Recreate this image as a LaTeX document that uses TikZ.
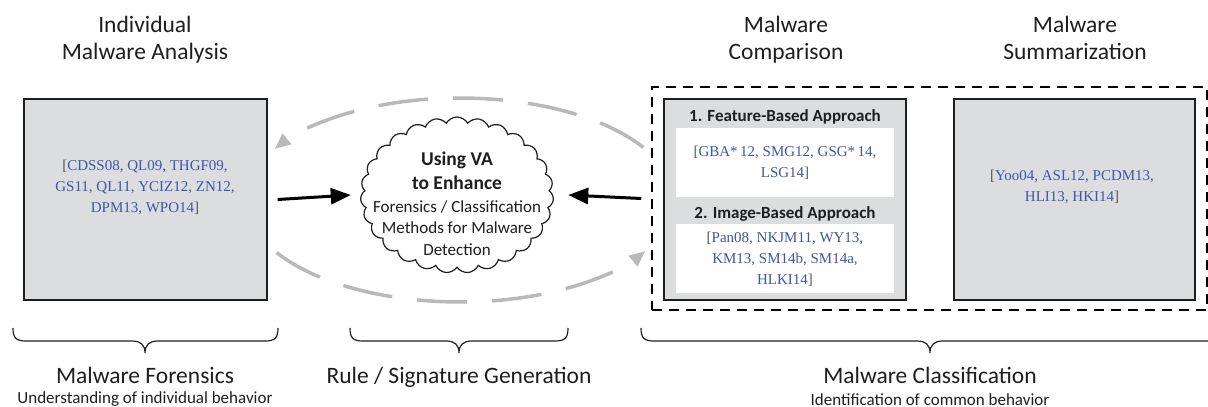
\documentclass[tikz,border=0pt]{standalone}
\usepackage{fontspec}
\setmainfont{Carlito}
\newfontfamily\citefont{Liberation Serif}
\usetikzlibrary{shapes.symbols,arrows.meta}
\definecolor{boxgray}{RGB}{220,221,223}
\definecolor{citeblue}{RGB}{64,86,168}
\definecolor{brk}{RGB}{85,85,85}
\definecolor{arcgray}{RGB}{185,185,185}
\definecolor{ink}{RGB}{30,30,30}
\newcommand{\cb}[1]{{\color{brk}[}#1{\color{brk}]}}
\newcommand{\mybrace}[3]{%
  \draw[bracestyle] (#1,328) .. controls (#1,338) and ({#1+3},341) .. ({#1+13},341)
    -- ({#2-13},341) .. controls ({#2-4},341) and (#2,345) .. (#2,353)
    .. controls (#2,345) and ({#2+4},341) .. ({#2+13},341)
    -- ({#3-13},341) .. controls ({#3-3},341) and (#3,338) .. (#3,328);}
\begin{document}
\begin{tikzpicture}[x=1pt,y=-1pt,
  graybox/.style={draw=ink, line width=1.2pt, fill=boxgray, inner sep=0pt},
  whitebox/.style={fill=white, draw=none, inner sep=0pt},
  cite/.style={font=\citefont\fontsize{15}{21}\selectfont, text=citeblue, align=center},
  title/.style={font=\fontsize{23.5}{27}\selectfont, text=ink, anchor=base, inner sep=0pt},
  subtitle/.style={font=\fontsize{17}{19}\selectfont, text=ink, anchor=base, inner sep=0pt},
  boldhead/.style={font=\bfseries\fontsize{17}{20}\selectfont, text=ink},
  blackarrow/.style={line width=3pt, -{Triangle[length=20pt,width=16pt]}},
  grayarc/.style={draw=arcgray, line width=3.5pt, dash pattern=on 50pt off 25pt, -{Triangle[length=16pt,width=13pt]}},
  bracestyle/.style={draw=ink, line width=1.2pt}]
\useasboundingbox (0,0) rectangle (1208,407);
\clip (0,0) rectangle (1208,407);

% titles
\node[title] (t1a) at (145,32) {Individual};
\node[title] (t1b) at (145,59) {Malware Analysis};
\node[title] (t2a) at (786,32) {Malware};
\node[title] (t2b) at (786,59) {Comparison};
\node[title] (t3a) at (1075,32) {Malware};
\node[title] (t3b) at (1075,59) {Summarization};

% left box
\node[graybox, minimum width=243pt, minimum height=201pt] (lbox) at (145.5,199.5) {};
\node[cite] (lcite) at (145,187) {\cb{CDSS08, QL09, THGF09,\\GS11, QL11, YCIZ12, ZN12,\\DPM13, WPO14}};

% cloud
\node[cloud, draw=ink, line width=1.2pt, fill=white, cloud puffs=27, cloud puff arc=120,
  cloud ignores aspect, minimum width=193pt, minimum height=156pt, inner sep=0pt] (cl) at (457,195) {};
\node[font=\bfseries\fontsize{19.5}{24}\selectfont, text=ink, align=center] (clh) at (457,171) {Using VA\\to Enhance};
\node[font=\fontsize{17}{21.5}\selectfont, text=ink, align=center] (clb) at (457,228) {Forensics / Classification\\Methods for Malware\\Detection};

% dashed region
\node[draw=black, line width=1.5pt, dash pattern=on 10pt off 7pt, minimum width=555pt, minimum height=223pt, inner sep=0pt] (dash) at (929.5,198.5) {};

% comparison box
\node[graybox, minimum width=242pt, minimum height=201pt] (cbox) at (785,199.5) {};
\node[boldhead] (h1) at (785,117) {1. Feature-Based Approach};
\node[whitebox, minimum width=218pt, minimum height=69pt] (w1) at (785,162.5) {};
\node[cite] (c1) at (785,163) {\cb{GBA*\,12, SMG12, GSG*\,14,\\LSG14}};
\node[boldhead] (h2) at (785,214) {2. Image-Based Approach};
\node[whitebox, minimum width=218pt, minimum height=69pt] (w2) at (785,258.5) {};
\node[cite] (c2) at (785,259) {\cb{Pan08, NKJM11, WY13,\\KM13, SM14b, SM14a,\\HLKI14}};

% summarization box
\node[graybox, minimum width=241pt, minimum height=201pt] (sbox) at (1074.5,199.5) {};
\node[cite] (scite) at (1072,187) {\cb{Yoo04, ASL12, PCDM13,\\HLI13, HKI14}};

% arrows
\draw[blackarrow] ([xshift=10pt]lbox.east) -- ([xshift=-10pt]cl.west);
\draw[blackarrow] ([xshift=-10pt]dash.west) -- ([xshift=15pt]cl.east);

% gray dashed arcs
\coordinate (tr) at (643.4,147.5);
\coordinate (bl) at (276.6,252.5);
\draw[grayarc] (tr) arc[start angle=-31, end angle=-150, x radius=214, y radius=102];
\draw[grayarc] (bl) arc[start angle=149, end angle=30, x radius=214, y radius=102];

% braces
\mybrace{13}{145}{278}
\mybrace{350}{459}{568}
\mybrace{641}{930}{1220}

% bottom labels
\node[title] (b1) at (145,383) {Malware Forensics};
\node[subtitle] (b1s) at (145,403) {Understanding of individual behavior};
\node[title] (b2) at (459,383) {Rule / Signature Generation};
\node[title] (b3) at (930,383) {Malware Classification};
\node[subtitle] (b3s) at (930,405) {Identification of common behavior};
\end{tikzpicture}
\end{document}
